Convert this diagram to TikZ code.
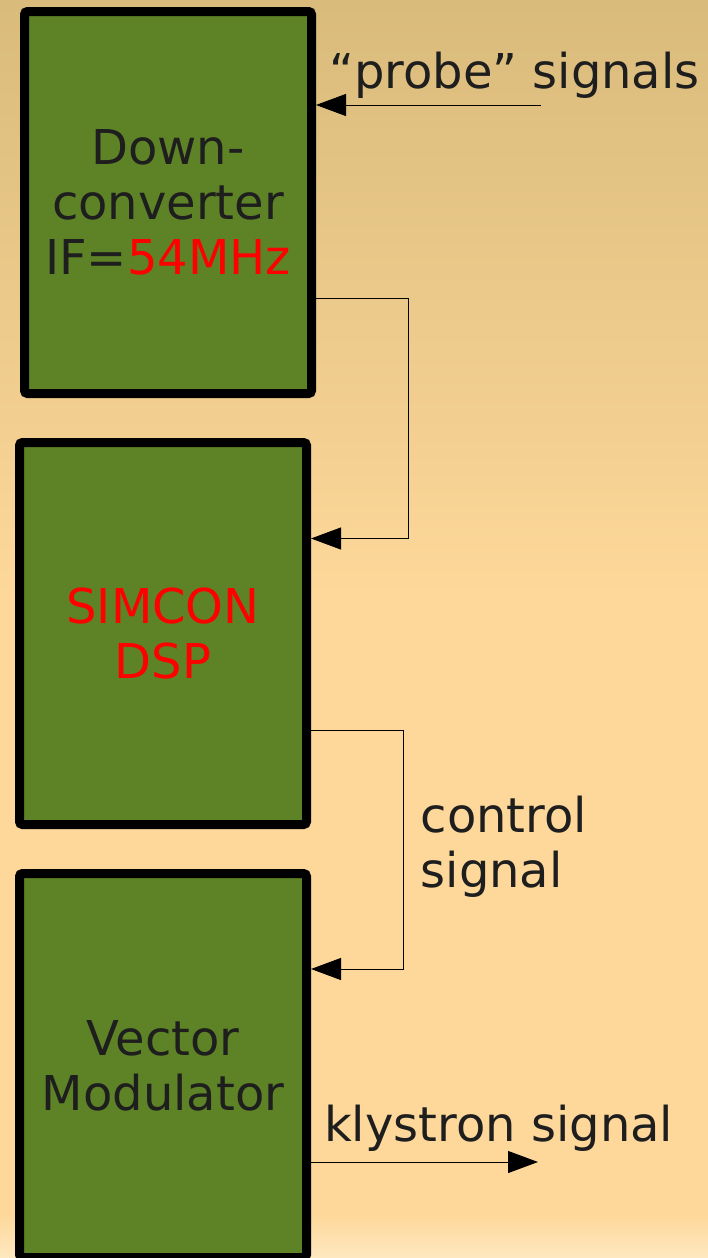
\documentclass[tikz,border=0pt]{standalone}
\usepackage{fontspec}
\setmainfont{DejaVu Sans}
\usetikzlibrary{arrows.meta,positioning}
\definecolor{boxgreen}{RGB}{94,131,39}
\definecolor{textdark}{RGB}{30,30,30}
\definecolor{bgtan}{RGB}{217,187,123}
\definecolor{bgpeach}{RGB}{253,216,154}
\definecolor{bglight}{RGB}{254,232,192}
\tikzset{
  block/.style={draw=black, fill=boxgreen, line width=9pt, rounded corners=3pt, align=center,
    minimum width=287pt, minimum height=382pt, inner sep=0pt, text=textdark,
    font=\fontsize{48}{55}\selectfont},
  sigtext/.style={inner sep=0pt, text=textdark, font=\fontsize{48}{55}\selectfont},
  sig/.style={-{Triangle[length=30pt,width=22pt]}, line width=1pt, draw=black}
}
\begin{document}
\begin{tikzpicture}[x=1pt,y=-1pt]
  \useasboundingbox (0,0) rectangle (708,1258);
  \shade[top color=bgtan, bottom color=bgpeach] (0,0) rectangle (708,600);
  \fill[bgpeach] (0,599) rectangle (708,1216);
  \shade[top color=bgpeach, bottom color=bglight] (0,1215) rectangle (708,1258);

  \node[block] (dc) at (168,202.5) {Down-\\converter\\IF=\textcolor{red}{54MHz}};
  \node[block, text=red, below=40pt of dc, xshift=-5pt] (simcon) {SIMCON\\DSP};
  \node[block, minimum height=384pt, below=40pt of simcon] (vm) {Vector\\Modulator};

  \node[sigtext, anchor=base west] (probelbl) at (329,88) {“probe” signals};
  \node[sigtext, anchor=west, align=left] (ctrllbl) at (420.5,847) {control\\signal};
  \node[sigtext, anchor=base west] (klyslbl) at (324,1141) {klystron signal};

  \coordinate (probein) at (541,105);
  \coordinate (klysout) at (538,1162);
  \draw[sig] (probein) -- (dc.east |- probein);
  \draw[sig] ([yshift=-95.5pt]dc.east) -- ++(92,0) |- ([yshift=95pt]simcon.east);
  \draw[sig] ([yshift=-97pt]simcon.east) -- ++(92,0) |- ([yshift=96.5pt]vm.east);
  \draw[sig] (vm.east |- klysout) -- (klysout);
\end{tikzpicture}
\end{document}
